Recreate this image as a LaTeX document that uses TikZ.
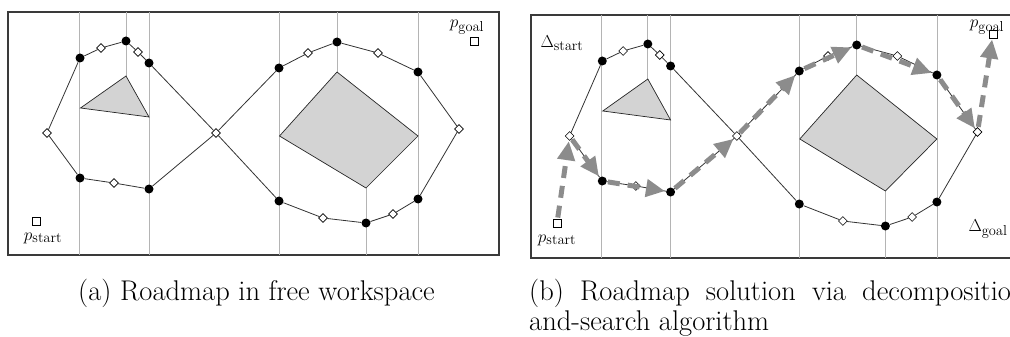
\documentclass[tikz,border=0pt]{standalone}
\usetikzlibrary{shapes.geometric,arrows.meta}
\definecolor{obst}{HTML}{D3D3D3}
\definecolor{pathgray}{HTML}{8C8C8C}
\definecolor{cellgray}{HTML}{B4B4B4}
\definecolor{framegray}{HTML}{3A3A3A}
\tikzset{
  fnode/.style={circle,fill=black,inner sep=0pt,minimum size=9pt},
  dnode/.style={diamond,draw=black,fill=white,line width=0.6pt,inner sep=0pt,minimum size=9pt},
  sqnode/.style={rectangle,draw=black,fill=white,line width=0.9pt,inner sep=0pt,minimum size=8pt},
  road/.style={draw=black!80,line width=0.8pt},
  cellline/.style={draw=cellgray,line width=0.8pt},
  frameline/.style={draw=framegray,line width=1.5pt},
  obstacle/.style={fill=obst,draw=black!85,line width=0.7pt},
  lbl/.style={inner sep=0pt,font=\fontsize{19}{22}\selectfont},
  solpath/.style={draw=pathgray,line width=5pt,dash pattern=on 12pt off 8pt,
     -{Triangle[length=19pt,width=17pt,fill=pathgray]}, shorten >=1pt, shorten <=1pt},
  caption/.style={inner sep=0pt,font=\fontsize{28.5}{30}\selectfont}
}
\newcommand\drawroadmap[1]{%
  \draw[frameline] (8,12) rectangle (499,255);
  \draw[cellline] (79,12) -- (79,255);
  \draw[cellline] (126,12) -- (126,76);
  \draw[cellline] (149,12) -- (149,255);
  \draw[cellline] (279,12) -- (279,255);
  \draw[cellline] (337,12) -- (337,72);
  \draw[cellline] (366,188) -- (366,255);
  \draw[cellline] (418,12) -- (418,255);
  \draw[obstacle] (126,76) -- (80.5,108) -- (149,117) -- cycle;
  \draw[obstacle] (337,72) -- (279.5,136) -- (366,188) -- (418,136) -- cycle;
  \node[dnode] (#1L) at (47,133) {};
  \node[fnode] (#1T1) at (80,58) {};
  \node[dnode] (#1T2) at (101,48) {};
  \node[fnode] (#1T3) at (126,41) {};
  \node[dnode] (#1T4) at (138,52) {};
  \node[fnode] (#1T5) at (149,63) {};
  \node[fnode] (#1B1) at (80,178) {};
  \node[dnode] (#1B2) at (114,183) {};
  \node[fnode] (#1B3) at (149,189) {};
  \node[dnode] (#1C) at (216,133) {};
  \node[fnode] (#1R1) at (279,68) {};
  \node[dnode] (#1R2) at (308,53) {};
  \node[fnode] (#1R3) at (337,42) {};
  \node[dnode] (#1R4) at (378,53) {};
  \node[fnode] (#1R5) at (418,72) {};
  \node[dnode] (#1R6) at (459,129) {};
  \node[fnode] (#1S1) at (418,199) {};
  \node[dnode] (#1S2) at (393,214) {};
  \node[fnode] (#1S3) at (366,223) {};
  \node[dnode] (#1S4) at (323,218) {};
  \node[fnode] (#1S5) at (279,201) {};
  \draw[road] (#1L) -- (#1T1) -- (#1T2) -- (#1T3) -- (#1T4) -- (#1T5) -- (#1C);
  \draw[road] (#1L) -- (#1B1) -- (#1B2) -- (#1B3) -- (#1C);
  \draw[road] (#1C) -- (#1R1) -- (#1R2) -- (#1R3) -- (#1R4) -- (#1R5) -- (#1R6);
  \draw[road] (#1R6) -- (#1S1) -- (#1S2) -- (#1S3) -- (#1S4) -- (#1S5) -- (#1C);
}
\begin{document}
\begin{tikzpicture}[x=1pt,y=-1pt]
\useasboundingbox (0,0) rectangle (1010,337);
\begin{scope}
  \clip (0,0) rectangle (1010,337);
  % panel (a)
  \drawroadmap{a}
  \node[sqnode] (astart) at (36,221) {};
  \node[lbl] (astartlbl) at (43,238) {$p_{\mathrm{start}}$};
  \node[sqnode] (agoal) at (474,41) {};
  \node[lbl] (agoallbl) at (467,27) {$p_{\mathrm{goal}}$};
  % panel (b)
  \begin{scope}[xshift=523.08pt,yshift=-3pt,xscale=0.99]
    \drawroadmap{b}
  \end{scope}
  \node[sqnode] (bstart) at (557,223) {};
  \node[lbl] (bstartlbl) at (557,240) {$p_{\mathrm{start}}$};
  \node[sqnode] (bgoal) at (993,34) {};
  \node[lbl] (bgoallbl) at (987,27) {$p_{\mathrm{goal}}$};
  \node[lbl] (dstart) at (562,43) {$\Delta_{\mathrm{start}}$};
  \node[lbl] (dgoal) at (988,229) {$\Delta_{\mathrm{goal}}$};
  \draw[solpath] (bstart) -- (bL);
  \draw[solpath] (bL) -- (bB1);
  \draw[solpath] (bB1) -- (bB3);
  \draw[solpath] (bB3) -- (bC);
  \draw[solpath] (bC) -- (bR1);
  \draw[solpath] (bR1) -- (bR3);
  \draw[solpath] (bR3) -- (bR5);
  \draw[solpath] (bR5) -- (bR6);
  \draw[solpath] (bR6) -- (bgoal);
  % captions
  \node[caption,anchor=west] (capa) at (78,293.5) {(a) Roadmap in free workspace};
  \node[caption,anchor=north west,text width=505pt,align=justify] (capb) at (529,279)
    {(b) Roadmap solution via decomposition-\linebreak and-search algorithm};
\end{scope}
\end{tikzpicture}
\end{document}
